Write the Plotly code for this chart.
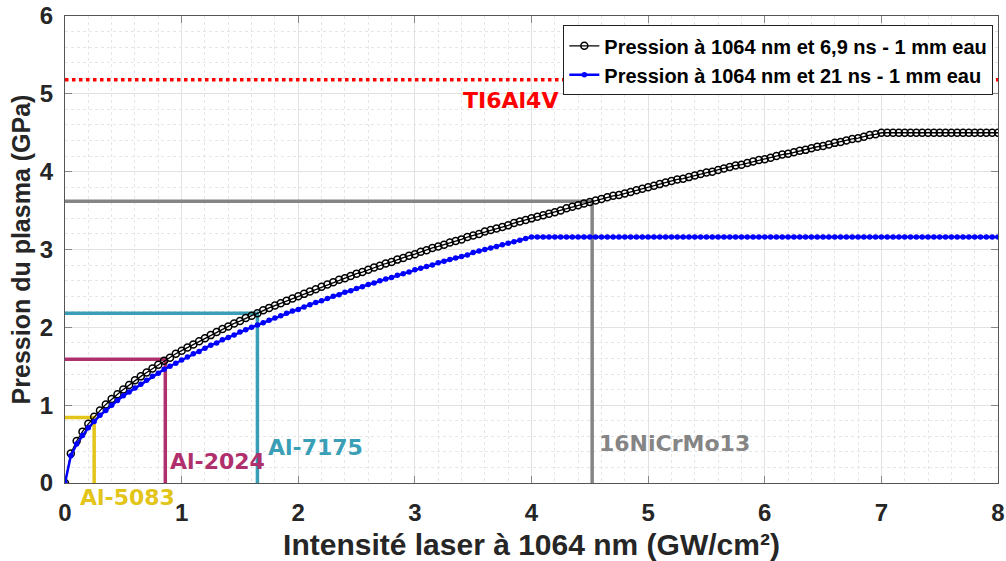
import plotly.graph_objects as go

# intensité laser (GW/cm²)
intensite = [
    0.00, 0.05, 0.10, 0.15, 0.20, 0.25, 0.30, 0.35, 0.40, 0.45,
    0.50, 0.55, 0.60, 0.65, 0.70, 0.75, 0.80, 0.85, 0.90, 0.95,
    1.00, 1.05, 1.10, 1.15, 1.20, 1.25, 1.30, 1.35, 1.40, 1.45,
    1.50, 1.55, 1.60, 1.65, 1.70, 1.75, 1.80, 1.85, 1.90, 1.95,
    2.00, 2.05, 2.10, 2.15, 2.20, 2.25, 2.30, 2.35, 2.40, 2.45,
    2.50, 2.55, 2.60, 2.65, 2.70, 2.75, 2.80, 2.85, 2.90, 2.95,
    3.00, 3.05, 3.10, 3.15, 3.20, 3.25, 3.30, 3.35, 3.40, 3.45,
    3.50, 3.55, 3.60, 3.65, 3.70, 3.75, 3.80, 3.85, 3.90, 3.95,
    4.00, 4.05, 4.10, 4.15, 4.20, 4.25, 4.30, 4.35, 4.40, 4.45,
    4.50, 4.55, 4.60, 4.65, 4.70, 4.75, 4.80, 4.85, 4.90, 4.95,
    5.00, 5.05, 5.10, 5.15, 5.20, 5.25, 5.30, 5.35, 5.40, 5.45,
    5.50, 5.55, 5.60, 5.65, 5.70, 5.75, 5.80, 5.85, 5.90, 5.95,
    6.00, 6.05, 6.10, 6.15, 6.20, 6.25, 6.30, 6.35, 6.40, 6.45,
    6.50, 6.55, 6.60, 6.65, 6.70, 6.75, 6.80, 6.85, 6.90, 6.95,
    7.00, 7.05, 7.10, 7.15, 7.20, 7.25, 7.30, 7.35, 7.40, 7.45,
    7.50, 7.55, 7.60, 7.65, 7.70, 7.75, 7.80, 7.85, 7.90, 7.95,
    8.00,
]

# pression (GPa) - 6,9 ns
p_69ns = [
    0.00, 0.38, 0.54, 0.66, 0.76, 0.85, 0.93, 1.01, 1.08, 1.14,
    1.20, 1.26, 1.32, 1.37, 1.42, 1.47, 1.52, 1.57, 1.61, 1.66,
    1.70, 1.74, 1.78, 1.82, 1.86, 1.90, 1.94, 1.98, 2.01, 2.05,
    2.08, 2.12, 2.15, 2.18, 2.22, 2.25, 2.28, 2.31, 2.34, 2.37,
    2.40, 2.43, 2.46, 2.49, 2.52, 2.55, 2.58, 2.61, 2.63, 2.66,
    2.69, 2.71, 2.74, 2.77, 2.79, 2.82, 2.84, 2.87, 2.89, 2.92,
    2.94, 2.97, 2.99, 3.02, 3.04, 3.06, 3.09, 3.11, 3.13, 3.16,
    3.18, 3.20, 3.23, 3.25, 3.27, 3.29, 3.31, 3.34, 3.36, 3.38,
    3.40, 3.42, 3.44, 3.46, 3.48, 3.50, 3.53, 3.55, 3.57, 3.59,
    3.61, 3.63, 3.65, 3.67, 3.69, 3.70, 3.72, 3.74, 3.76, 3.78,
    3.80, 3.82, 3.84, 3.86, 3.88, 3.90, 3.91, 3.93, 3.95, 3.97,
    3.99, 4.00, 4.02, 4.04, 4.06, 4.08, 4.09, 4.11, 4.13, 4.15,
    4.16, 4.18, 4.20, 4.22, 4.23, 4.25, 4.27, 4.28, 4.30, 4.32,
    4.33, 4.35, 4.37, 4.38, 4.40, 4.42, 4.43, 4.45, 4.47, 4.48,
    4.50, 4.50, 4.50, 4.50, 4.50, 4.50, 4.50, 4.50, 4.50, 4.50,
    4.50, 4.50, 4.50, 4.50, 4.50, 4.50, 4.50, 4.50, 4.50, 4.50,
    4.50,
]

# pression (GPa) - 21 ns
p_21ns = [
    0.00, 0.35, 0.50, 0.61, 0.71, 0.79, 0.87, 0.93, 1.00, 1.06,
    1.12, 1.17, 1.22, 1.27, 1.32, 1.37, 1.41, 1.46, 1.50, 1.54,
    1.58, 1.62, 1.66, 1.69, 1.73, 1.77, 1.80, 1.84, 1.87, 1.90,
    1.94, 1.97, 2.00, 2.03, 2.06, 2.09, 2.12, 2.15, 2.18, 2.21,
    2.23, 2.26, 2.29, 2.32, 2.34, 2.37, 2.40, 2.42, 2.45, 2.47,
    2.50, 2.52, 2.55, 2.57, 2.60, 2.62, 2.64, 2.67, 2.69, 2.71,
    2.74, 2.76, 2.78, 2.80, 2.83, 2.85, 2.87, 2.89, 2.91, 2.93,
    2.96, 2.98, 3.00, 3.02, 3.04, 3.06, 3.08, 3.10, 3.12, 3.14,
    3.16, 3.16, 3.16, 3.16, 3.16, 3.16, 3.16, 3.16, 3.16, 3.16,
    3.16, 3.16, 3.16, 3.16, 3.16, 3.16, 3.16, 3.16, 3.16, 3.16,
    3.16, 3.16, 3.16, 3.16, 3.16, 3.16, 3.16, 3.16, 3.16, 3.16,
    3.16, 3.16, 3.16, 3.16, 3.16, 3.16, 3.16, 3.16, 3.16, 3.16,
    3.16, 3.16, 3.16, 3.16, 3.16, 3.16, 3.16, 3.16, 3.16, 3.16,
    3.16, 3.16, 3.16, 3.16, 3.16, 3.16, 3.16, 3.16, 3.16, 3.16,
    3.16, 3.16, 3.16, 3.16, 3.16, 3.16, 3.16, 3.16, 3.16, 3.16,
    3.16, 3.16, 3.16, 3.16, 3.16, 3.16, 3.16, 3.16, 3.16, 3.16,
    3.16,
]

# seuils des matériaux
materiaux = ["Al-5083", "Al-2024", "Al-7175", "16NiCrMo13"]
seuil_intensite = [0.25, 0.86, 1.65, 4.52]
seuil_pression = [0.84, 1.59, 2.18, 3.62]
couleurs = ["#E3C51A", "#B0306E", "#3A9FB6", "#858585"]
# position des étiquettes (Al-5083 sous l'axe)
label_x = [0.11, 0.88, 1.72, 4.56]
label_y = [-0.19, 0.27, 0.45, 0.51]

ti_nom = "TI6Al4V"
ti_pression = 5.18

fig = go.Figure()

# lignes des seuils
for nom, sx, sy, c in zip(materiaux, seuil_intensite, seuil_pression, couleurs):
    fig.add_trace(go.Scatter(
        x=[0, sx, sx], y=[sy, sy, 0], mode="lines",
        line=dict(color=c, width=3.5), showlegend=False, hoverinfo="skip"
    ))

fig.add_trace(go.Scatter(
    x=[0, 8], y=[ti_pression, ti_pression], mode="lines",
    line=dict(color="#FF0000", width=3.5, dash="dot"),
    showlegend=False, hoverinfo="skip"
))

fig.add_trace(go.Scatter(
    x=intensite, y=p_69ns, mode="lines+markers",
    name="Pression à 1064 nm et 6,9 ns - 1 mm eau",
    line=dict(color="black", width=1.3),
    marker=dict(symbol="circle-open", size=7, color="black", line=dict(width=1.5))
))

fig.add_trace(go.Scatter(
    x=intensite, y=p_21ns, mode="lines+markers",
    name="Pression à 1064 nm et 21 ns - 1 mm eau",
    line=dict(color="#0000FF", width=2.5),
    marker=dict(symbol="circle", size=5.5, color="#0000FF")
))

label_font = dict(family="DejaVu Sans", size=22, weight="bold")
for nom, lx, ly, c in zip(materiaux, label_x, label_y, couleurs):
    fig.add_annotation(x=lx, y=ly / 6, yref="paper", text=nom, showarrow=False,
                       xanchor="left", yanchor="middle",
                       font=dict(label_font, color=c))
fig.add_annotation(x=3.82, y=4.92, text=ti_nom, showarrow=False,
                   font=dict(label_font, color="#FF0000"))

axis_common = dict(
    showline=True, linecolor="#555555", linewidth=1, mirror="ticks",
    ticks="inside", ticklen=7, tickcolor="#888888",
    showgrid=True, gridcolor="#e2e2e2", gridwidth=1, zeroline=False,
    tickfont=dict(family="Liberation Sans, Arial", size=24, color="#262626", weight="bold"),
    automargin=False,
)

fig.update_xaxes(
    range=[0, 8], dtick=1, ticklabelstandoff=8,
    title=dict(text="Intensité laser à 1064 nm (GW/cm²)", standoff=10,
               font=dict(family="Liberation Sans, Arial", size=30, color="#262626", weight="bold")),
    minor=dict(dtick=0.2, showgrid=True, gridcolor="#e6e6e6", griddash="dot"),
    **axis_common
)
fig.update_yaxes(
    range=[0, 6], dtick=1, ticklabelstandoff=6,
    title=dict(text="Pression du plasma (GPa)", standoff=2,
               font=dict(family="Liberation Sans, Arial", size=25, color="#262626", weight="bold")),
    minor=dict(dtick=0.2, showgrid=True, gridcolor="#e6e6e6", griddash="dot"),
    **axis_common
)

fig.update_layout(
    width=1006, height=561,
    margin=dict(l=65, r=8, t=16, b=78),
    plot_bgcolor="white", paper_bgcolor="white",
    legend=dict(
        x=0.995, y=0.98, xanchor="right", yanchor="top",
        bgcolor="white", bordercolor="#222222", borderwidth=1,
        font=dict(family="Liberation Sans, Arial", size=20, color="black", weight="bold"),
        tracegroupgap=0, itemwidth=30,
    ),
)

fig.write_html("out.html", config={"displayModeBar": False},
               post_script="document.body.style.margin='0';")
